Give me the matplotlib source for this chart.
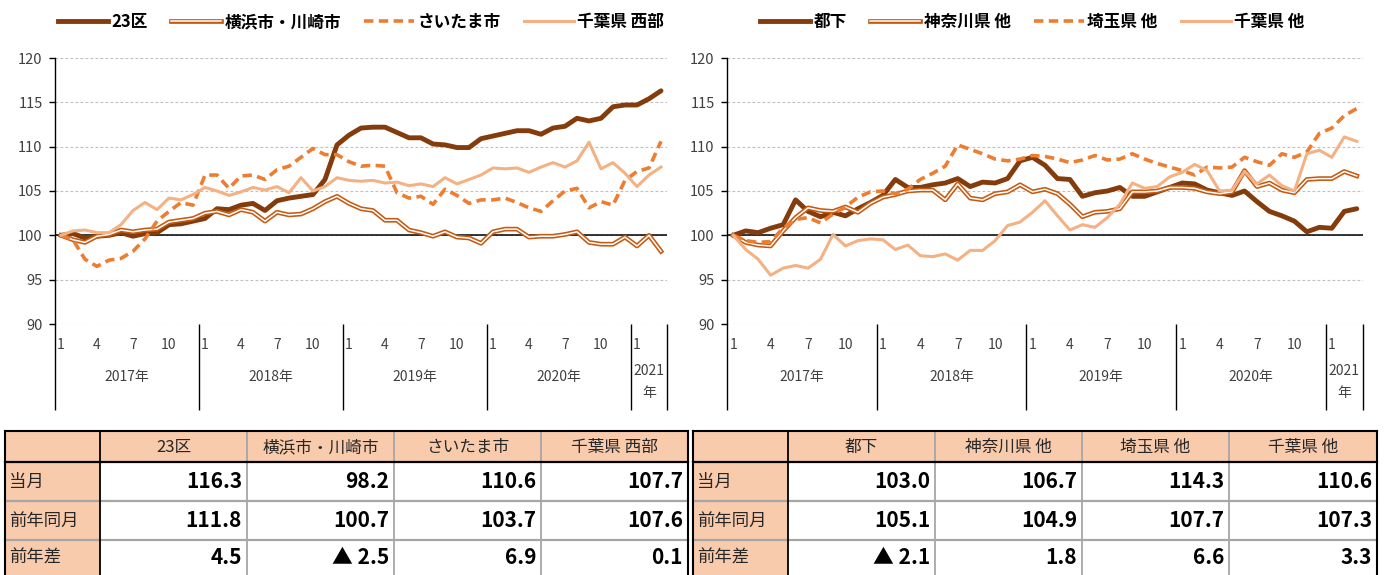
import matplotlib
matplotlib.use('Agg')
import matplotlib.pyplot as plt
from matplotlib.lines import Line2D
from matplotlib.legend_handler import HandlerTuple
from matplotlib.patches import Rectangle
import matplotlib.transforms as mtransforms

plt.rcParams['font.family'] = ['Noto Sans CJK JP', 'DejaVu Sans']

# ---------------- data ----------------
month_labels = ['1', '4', '7', '10']
year_labels = ['2017年', '2018年', '2019年', '2020年', '2021\n年']
yticks = [90, 95, 100, 105, 110, 115, 120]

left_names = ['23区', '横浜市・川崎市', 'さいたま市', '千葉県 西部']
right_names = ['都下', '神奈川県 他', '埼玉県 他', '千葉県 他']

tokubu = [100.0, 100.2, 99.7, 99.9, 100.0, 100.3, 99.9, 100.2, 100.3, 101.2, 101.3, 101.6,
          101.9, 103.0, 102.9, 103.4, 103.6, 102.8, 103.9, 104.2, 104.4, 104.6, 106.3, 110.2,
          111.3, 112.1, 112.2, 112.2, 111.6, 111.0, 111.0, 110.3, 110.2, 109.9, 109.9, 110.9,
          111.2, 111.5, 111.8, 111.8, 111.4, 112.1, 112.3, 113.2, 112.9, 113.2, 114.5, 114.7,
          114.7, 115.4, 116.3]
yokohama = [100.0, 99.5, 99.2, 99.9, 100.1, 100.6, 100.4, 100.6, 100.7, 101.5, 101.7, 101.9,
            102.5, 102.7, 102.3, 102.9, 102.6, 101.6, 102.6, 102.3, 102.4, 103.0, 103.8, 104.4,
            103.6, 103.0, 102.8, 101.7, 101.7, 100.6, 100.3, 99.9, 100.4, 99.8, 99.7, 99.1,
            100.4, 100.7, 100.7, 99.8, 99.9, 99.9, 100.1, 100.4, 99.2, 99.0, 99.0, 99.8,
            98.8, 100.0, 98.2]
saitama = [100.0, 99.5, 97.3, 96.5, 97.2, 97.4, 98.2, 99.6, 101.6, 102.7, 103.7, 103.4,
           106.8, 106.8, 105.3, 106.7, 106.8, 106.3, 107.4, 107.8, 108.8, 109.8, 109.1, 109.1,
           108.3, 107.8, 107.9, 107.8, 104.8, 104.2, 104.4, 103.5, 105.2, 104.5, 103.6, 104.0,
           104.0, 104.2, 103.7, 103.1, 102.7, 103.9, 105.0, 105.3, 103.1, 103.8, 103.4, 106.2,
           107.2, 107.6, 110.6]
chiba_w = [100.0, 100.5, 100.6, 100.3, 100.3, 101.2, 102.8, 103.7, 102.9, 104.2, 104.0, 104.6,
           105.4, 105.0, 104.5, 104.9, 105.4, 105.1, 105.5, 104.8, 106.5, 105.0, 105.5, 106.5,
           106.2, 106.1, 106.2, 105.9, 106.0, 105.6, 105.8, 105.5, 106.5, 105.8, 106.3, 106.8,
           107.6, 107.5, 107.6, 107.1, 107.7, 108.2, 107.7, 108.4, 110.5, 107.5, 108.2, 107.0,
           105.5, 106.8, 107.7]

toka = [100.0, 100.5, 100.3, 100.8, 101.2, 104.0, 102.7, 102.1, 102.6, 102.2, 103.0, 103.7,
        104.5, 106.3, 105.4, 105.4, 105.7, 105.9, 106.4, 105.5, 106.0, 105.9, 106.4, 108.4,
        108.8, 107.9, 106.4, 106.3, 104.4, 104.8, 105.0, 105.4, 104.4, 104.4, 104.9, 105.4,
        105.9, 105.8, 105.1, 104.8, 104.5, 105.0, 103.8, 102.7, 102.2, 101.6, 100.4, 100.9,
        100.8, 102.7, 103.0]
kanagawa = [100.0, 99.2, 98.9, 98.8, 100.5, 102.0, 103.1, 102.8, 102.7, 103.2, 102.6, 103.6,
            104.3, 104.6, 105.0, 105.1, 105.1, 104.0, 105.8, 104.2, 104.0, 104.7, 104.9, 105.7,
            104.9, 105.2, 104.7, 103.5, 102.1, 102.6, 102.7, 103.0, 104.9, 104.9, 105.0, 105.4,
            105.4, 105.3, 104.9, 104.7, 104.9, 107.3, 105.5, 105.9, 105.1, 104.8, 106.3, 106.4,
            106.4, 107.2, 106.7]
saitama_o = [100.0, 99.4, 99.2, 99.3, 100.8, 101.8, 102.0, 101.4, 102.4, 103.2, 104.3, 104.9,
             105.0, 104.7, 105.2, 106.3, 107.0, 107.8, 110.2, 109.7, 109.2, 108.6, 108.4, 108.6,
             109.0, 108.9, 108.6, 108.2, 108.5, 109.0, 108.5, 108.6, 109.2, 108.6, 108.1, 107.7,
             107.3, 106.8, 107.7, 107.6, 107.7, 108.8, 108.3, 107.9, 109.2, 108.8, 109.4, 111.5,
             112.1, 113.5, 114.3]
chiba_o = [100.0, 98.4, 97.3, 95.5, 96.3, 96.6, 96.3, 97.3, 100.1, 98.8, 99.4, 99.6,
           99.5, 98.4, 98.9, 97.7, 97.6, 97.9, 97.2, 98.3, 98.3, 99.4, 101.1, 101.5,
           102.6, 103.9, 102.2, 100.6, 101.2, 100.9, 102.0, 103.5, 105.9, 105.3, 105.5, 106.6,
           107.1, 108.0, 107.3, 105.0, 105.1, 107.2, 105.8, 106.8, 105.6, 105.0, 109.2, 109.6,
           108.8, 111.1, 110.6]

row_labels = ['当月', '前年同月', '前年差']
left_current = [116.3, 98.2, 110.6, 107.7]
left_prev = [111.8, 100.7, 103.7, 107.6]
right_current = [103.0, 106.7, 114.3, 110.6]
right_prev = [105.1, 104.9, 107.7, 107.3]

# ---------------- styling ----------------
C_DARK = '#843C0C'
C_MID = '#C55A11'
C_DASH = '#ED7D31'
C_LIGHT = '#F4B183'
PEACH = '#F8CBAD'
TXT = '#404040'

W, H = 1384, 575
fig = plt.figure(figsize=(W / 100, H / 100), dpi=100)


def rect(x0, y0, x1, y1):
    return [x0 / W, 1 - y1 / H, (x1 - x0) / W, (y1 - y0) / H]


tab = fig.add_axes([0, 0, 1, 1])
tab.set_xlim(0, W)
tab.set_ylim(H, 0)
tab.axis('off')

axL = fig.add_axes(rect(55, 58, 667, 324))
axR = fig.add_axes(rect(727, 58, 1363, 324))


def draw_chart(ax, series, names, legend_x):
    n = len(series[0])
    xs = list(range(n))
    ax.set_xlim(-0.5, n - 0.5)
    ax.set_ylim(yticks[0], yticks[-1])
    ax.set_yticks(yticks)
    ax.yaxis.grid(True, color='#BFBFBF', linestyle=(0, (2.5, 2)), linewidth=0.8)
    ax.set_axisbelow(True)
    for s in ['top', 'right', 'bottom']:
        ax.spines[s].set_visible(False)
    ax.spines['left'].set_color('black')
    ax.spines['left'].set_linewidth(1.0)
    ax.tick_params(axis='y', direction='out', length=4, width=1, color='black',
                   labelsize=10.5, labelcolor=TXT, pad=5)
    ax.set_xticks([])
    ax.axhline(100, color='black', lw=1.1, zorder=1.5)

    s1, s2, s3, s4 = series
    ax.plot(xs, s1, color=C_DARK, lw=3.5, solid_joinstyle='round', solid_capstyle='round', zorder=3)
    ax.plot(xs, s2, color=C_MID, lw=3.4, solid_joinstyle='round', zorder=4)
    ax.plot(xs, s2, color='white', lw=1.1, solid_joinstyle='round', zorder=4.1)
    ax.plot(xs, s3, color=C_DASH, lw=2.6, linestyle=(0, (2.6, 1.5)), zorder=5)
    ax.plot(xs, s4, color=C_LIGHT, lw=2.2, solid_joinstyle='round', zorder=6)

    h1 = Line2D([], [], color=C_DARK, lw=3.5)
    h2 = (Line2D([], [], color=C_MID, lw=3.4), Line2D([], [], color='white', lw=1.1))
    h3 = Line2D([], [], color=C_DASH, lw=2.6, linestyle=(0, (2.6, 1.5)))
    h4 = Line2D([], [], color=C_LIGHT, lw=2.2)
    ax.legend([h1, h2, h3, h4], names, loc='center', bbox_to_anchor=(legend_x, 1.135), ncol=4,
              frameon=False, handlelength=3.0, handletextpad=0.2, columnspacing=1.4,
              prop={'size': 12, 'weight': 'bold'},
              handler_map={tuple: HandlerTuple(ndivide=1, pad=0)})

    # category axis with month and year labels
    trans = mtransforms.blended_transform_factory(ax.transData, ax.transAxes)
    starts = [0, 12, 24, 36, 48]
    bounds = [-0.5, 11.5, 23.5, 35.5, 47.5, n - 0.5]
    for b in bounds:
        ax.plot([b, b], [0, -0.325], transform=trans, color='black', lw=1.0,
                clip_on=False, solid_capstyle='butt')
    for k, st in enumerate(starts):
        for j, lab in enumerate(month_labels):
            pos = st + 3 * j
            if pos < n:
                ax.text(pos, -0.078, lab, transform=trans, ha='center', va='center',
                        fontsize=10, color=TXT)
        cx = (bounds[k] + bounds[k + 1]) / 2
        yl = year_labels[k]
        if '\n' in yl:
            top, bot = yl.split('\n')
            ax.text(cx, -0.175, top, transform=trans, ha='center', va='center',
                    fontsize=10, color=TXT)
            ax.text(cx, -0.26, bot, transform=trans, ha='center', va='center',
                    fontsize=10, color=TXT)
        else:
            ax.text(cx, -0.2, yl, transform=trans, ha='center', va='center',
                    fontsize=10, color=TXT)


draw_chart(axL, [tokubu, yokohama, saitama, chiba_w], left_names, 0.5)
draw_chart(axR, [toka, kanagawa, saitama_o, chiba_o], right_names, 0.48)


def fmt(v, diff=False):
    v = round(v, 1)
    if diff and v < 0:
        return '▲ ' + f'{abs(v):.1f}'
    return f'{v:.1f}'


def draw_table(cols, headers, current, prev):
    rows_y = [431, 462, 501, 540, 580]
    x0, x1 = cols[0], cols[-1]
    tab.add_patch(Rectangle((x0, rows_y[0]), x1 - x0, rows_y[1] - rows_y[0], facecolor=PEACH,
                            edgecolor='none', zorder=1))
    tab.add_patch(Rectangle((x0, rows_y[1]), cols[1] - x0, rows_y[-1] - rows_y[1],
                            facecolor=PEACH, edgecolor='none', zorder=1))
    for cx in cols[2:-1]:
        tab.plot([cx, cx], [rows_y[0], rows_y[-1]], color='#A6A6A6', lw=1.3, zorder=2)
    for ry in rows_y[2:-1]:
        tab.plot([x0, x1], [ry, ry], color='#A6A6A6', lw=1.6, zorder=2)
    tab.plot([x0, x1], [rows_y[0], rows_y[0]], color='black', lw=1.5, zorder=3)
    tab.plot([x0, x1], [rows_y[1], rows_y[1]], color='black', lw=1.6, zorder=3)
    tab.plot([x0, x0], [rows_y[0], rows_y[-1]], color='black', lw=1.5, zorder=3)
    tab.plot([x1, x1], [rows_y[0], rows_y[-1]], color='black', lw=1.5, zorder=3)
    tab.plot([cols[1], cols[1]], [rows_y[0], rows_y[-1]], color='black', lw=1.3, zorder=3)
    for i, h in enumerate(headers):
        cx = (cols[i + 1] + cols[i + 2]) / 2
        tab.text(cx, (rows_y[0] + rows_y[1]) / 2 + 1, h, ha='center', va='center',
                 fontsize=12, color='#262626', zorder=4)
    diffs = [c - p for c, p in zip(current, prev)]
    table_rows = [[fmt(v) for v in current], [fmt(v) for v in prev],
                  [fmt(v, True) for v in diffs]]
    for r, lab in enumerate(row_labels):
        cy = (rows_y[r + 1] + rows_y[r + 2]) / 2
        if r == 2:
            cy = 558
        tab.text(x0 + 4, cy, lab, ha='left', va='center', fontsize=12.5, color='#262626', zorder=4)
        for i, val in enumerate(table_rows[r]):
            tab.text(cols[i + 2] - 5, cy, val, ha='right', va='center', fontsize=15,
                     fontweight='bold', color='black', zorder=4)


draw_table([5, 100, 247, 394, 541, 688], left_names, left_current, left_prev)
draw_table([693, 788, 935, 1082, 1229, 1377], right_names, right_current, right_prev)

fig.savefig('out.png', dpi=100)
